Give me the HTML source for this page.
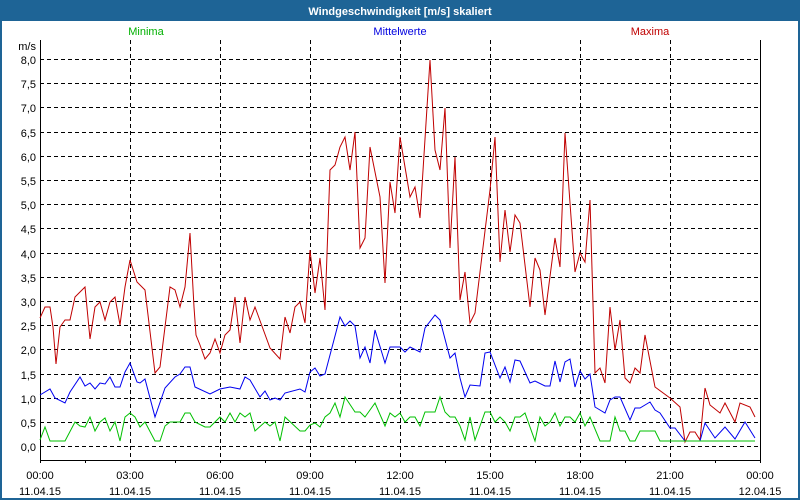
<!DOCTYPE html>
<html><head><meta charset="utf-8"><style>
body{margin:0;width:800px;height:500px;overflow:hidden;background:#fff}
svg{display:block;font-family:"Liberation Sans",sans-serif}
</style></head><body>
<svg width="800" height="500" viewBox="0 0 800 500">
<rect x="0" y="0" width="800" height="500" fill="#1e6496"/>
<rect x="2" y="21" width="796" height="477" fill="#fff"/>
<text x="400" y="15" fill="#fff" font-size="11" font-weight="bold" text-anchor="middle">Windgeschwindigkeit [m/s] skaliert</text>
<text x="146" y="35" fill="#00b000" font-size="11" text-anchor="middle">Minima</text>
<text x="400" y="35" fill="#0000e0" font-size="11" text-anchor="middle">Mittelwerte</text>
<text x="650" y="35" fill="#c00000" font-size="11" text-anchor="middle">Maxima</text>
<text x="36" y="50" font-size="11" text-anchor="end">m/s</text>
<g stroke="#000" stroke-dasharray="4,3" stroke-width="1" shape-rendering="crispEdges">
<line x1="40" x2="760" y1="59.5" y2="59.5"/><line x1="40" x2="760" y1="83.5" y2="83.5"/><line x1="40" x2="760" y1="107.5" y2="107.5"/><line x1="40" x2="760" y1="132.5" y2="132.5"/><line x1="40" x2="760" y1="156.5" y2="156.5"/><line x1="40" x2="760" y1="180.5" y2="180.5"/><line x1="40" x2="760" y1="204.5" y2="204.5"/><line x1="40" x2="760" y1="228.5" y2="228.5"/><line x1="40" x2="760" y1="253.5" y2="253.5"/><line x1="40" x2="760" y1="277.5" y2="277.5"/><line x1="40" x2="760" y1="301.5" y2="301.5"/><line x1="40" x2="760" y1="325.5" y2="325.5"/><line x1="40" x2="760" y1="349.5" y2="349.5"/><line x1="40" x2="760" y1="374.5" y2="374.5"/><line x1="40" x2="760" y1="398.5" y2="398.5"/><line x1="40" x2="760" y1="422.5" y2="422.5"/><line x1="40" x2="760" y1="446.5" y2="446.5"/>
<line x1="130.5" x2="130.5" y1="40" y2="460"/><line x1="220.5" x2="220.5" y1="40" y2="460"/><line x1="310.5" x2="310.5" y1="40" y2="460"/><line x1="400.5" x2="400.5" y1="40" y2="460"/><line x1="490.5" x2="490.5" y1="40" y2="460"/><line x1="580.5" x2="580.5" y1="40" y2="460"/><line x1="670.5" x2="670.5" y1="40" y2="460"/>
</g>
<g font-size="11" text-anchor="end">
<text x="36" y="64">8,0</text><text x="36" y="88">7,5</text><text x="36" y="112">7,0</text><text x="36" y="137">6,5</text><text x="36" y="161">6,0</text><text x="36" y="185">5,5</text><text x="36" y="209">5,0</text><text x="36" y="233">4,5</text><text x="36" y="258">4,0</text><text x="36" y="282">3,5</text><text x="36" y="306">3,0</text><text x="36" y="330">2,5</text><text x="36" y="354">2,0</text><text x="36" y="379">1,5</text><text x="36" y="403">1,0</text><text x="36" y="427">0,5</text><text x="36" y="451">0,0</text>
</g>
<g stroke="#000" shape-rendering="crispEdges">
<path d="M40.5 40V460.5H760.5V40" fill="none"/>
<path d="M40.5 460v3M85.5 460v3M130.5 460v3M175.5 460v3M220.5 460v3M265.5 460v3M310.5 460v3M355.5 460v3M400.5 460v3M445.5 460v3M490.5 460v3M535.5 460v3M580.5 460v3M625.5 460v3M670.5 460v3M715.5 460v3M760.5 460v3"/>
</g>
<g font-size="11" text-anchor="middle">
<text x="40" y="479">00:00</text><text x="130" y="479">03:00</text><text x="220" y="479">06:00</text><text x="310" y="479">09:00</text><text x="400" y="479">12:00</text><text x="490" y="479">15:00</text><text x="580" y="479">18:00</text><text x="670" y="479">21:00</text><text x="760" y="479">00:00</text>
<text x="40" y="495">11.04.15</text><text x="130" y="495">11.04.15</text><text x="220" y="495">11.04.15</text><text x="310" y="495">11.04.15</text><text x="400" y="495">11.04.15</text><text x="490" y="495">11.04.15</text><text x="580" y="495">11.04.15</text><text x="670" y="495">11.04.15</text><text x="760" y="495">12.04.15</text>
</g>
<g fill="none" stroke-width="1">
<polyline stroke="#c00000" points="40,318 45,307 50,307 53,327 56,364 60,327 65,320 70,320 75,297 85,287 90,339 95,307 100,302 105,320 110,302 115,297 120,325 125,287 130,260 137,282 145,290 155,373 160,367 170,287 175,290 180,307 185,287 190,233 194,307 196,335 200,345 205,359 210,353 215,339 220,353 225,335 230,330 235,297 240,343 245,297 250,320 255,307 270,348 280,359 285,317 290,333 295,307 300,302 305,323 310,250 315,293 320,258 325,310 330,170 335,165 340,147 345,137 350,170 355,132 360,248 365,238 370,147 380,197 385,283 390,182 395,213 400,137 410,197 415,187 420,218 430,60 435,150 440,170 445,108 450,248 455,157 460,300 465,272 470,323 475,313 490,190 495,137 500,262 505,210 510,252 515,215 520,223 530,307 535,258 540,270 545,315 555,238 560,267 565,133 570,203 575,272 580,253 585,262 590,200 595,373 600,368 605,383 610,307 615,350 620,320 625,378 630,383 635,368 640,373 645,335 655,387 670,398 680,407 685,442 690,432 695,432 700,440 705,388 710,405 720,413 725,403 735,422 740,403 750,407 755,417"/>
<polyline stroke="#0000f0" points="40,395 50,389 55,398 65,403 70,392 80,377 85,386 90,383 95,389 100,383 105,384 110,377 115,387 120,387 125,372 130,363 137,382 140,383 145,379 155,417 165,388 175,377 180,374 185,367 190,367 195,387 210,394 220,389 225,388 230,387 240,389 245,377 250,380 260,397 265,391 270,400 275,398 280,400 285,393 300,389 305,392 310,372 315,368 320,376 325,374 340,317 345,326 350,321 355,326 360,358 365,347 370,363 375,330 385,363 390,347 400,347 405,352 410,347 420,352 425,328 435,315 440,320 450,358 455,353 460,378 465,397 470,385 480,386 485,353 490,352 500,378 505,367 510,382 515,360 520,361 530,383 535,381 545,386 550,386 555,361 560,382 565,362 570,359 575,387 580,371 585,379 590,374 595,407 605,413 610,400 615,397 620,397 630,420 635,408 640,408 650,402 655,410 660,413 670,428 675,428 685,441 700,441 705,423 715,438 725,427 735,439 745,422 755,438"/>
<polyline stroke="#00c000" points="40,440 45,427 50,441 65,441 75,422 80,426 85,427 90,417 95,431 100,422 105,418 110,431 115,422 120,441 125,417 130,413 135,417 140,427 145,422 155,441 160,441 165,426 170,422 180,422 185,413 190,413 195,422 205,427 210,427 220,417 225,422 230,413 235,422 240,413 245,417 250,413 255,431 265,422 270,426 275,422 280,441 285,417 300,431 305,431 310,425 315,423 320,427 325,417 330,413 335,403 340,417 345,397 355,412 360,412 365,417 375,403 385,426 390,413 395,417 400,413 405,422 410,417 415,417 420,426 425,412 435,412 440,397 445,412 450,417 455,417 460,426 465,440 470,417 475,440 480,426 485,412 490,412 495,422 500,417 505,422 510,431 515,417 520,417 525,413 535,441 540,417 545,426 550,422 555,413 560,426 565,417 570,417 575,422 580,413 585,426 590,417 600,441 610,441 615,417 620,431 625,431 630,441 635,441 640,431 655,431 660,441 755,441"/>
</g>
</svg>
</body></html>
